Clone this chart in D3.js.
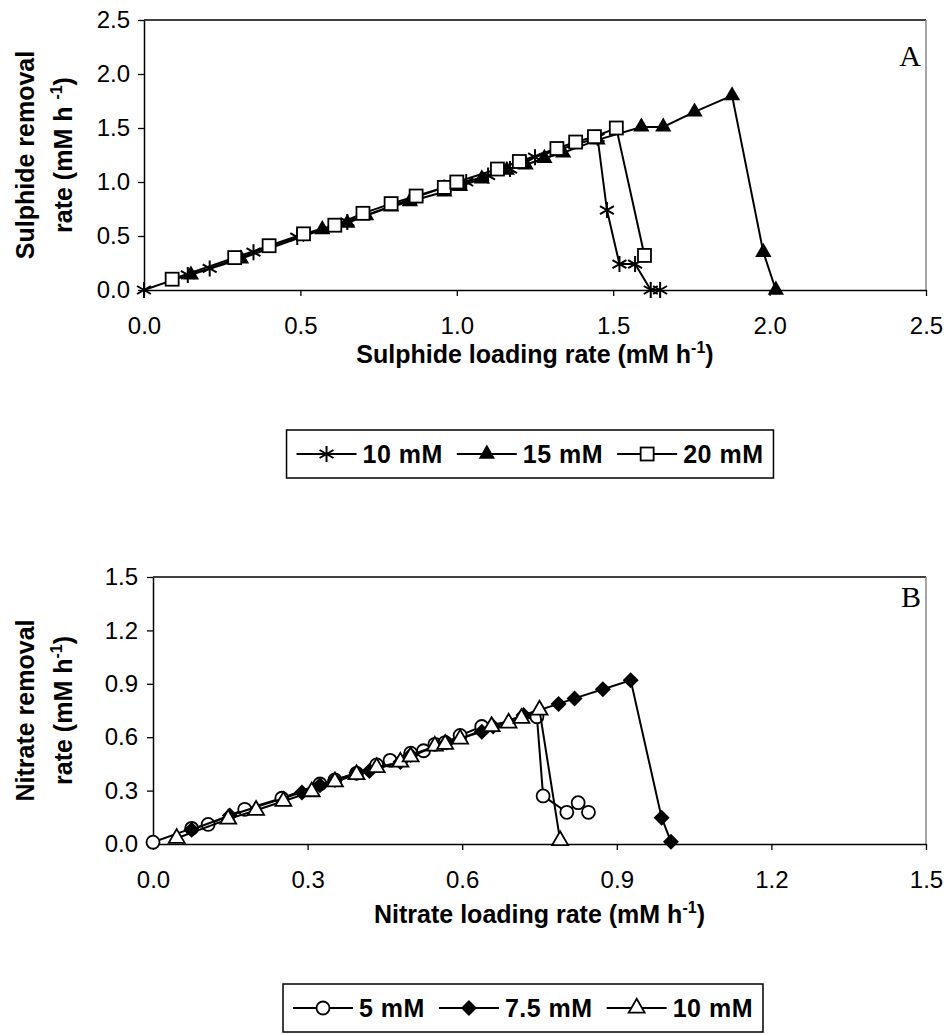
<!DOCTYPE html>
<html><head><meta charset="utf-8">
<script src="https://cdn.jsdelivr.net/npm/d3@7"></script>
<style>
body{margin:0;background:#fff}
svg{display:block}
</style>
</head><body>
<svg id="c" width="948" height="1034"></svg>
<script>
// ---------- Panel A data (sulphide) ----------
const aTicks = [0, 0.5, 1.0, 1.5, 2.0, 2.5];
const aSeriesNames = ["10 mM", "15 mM", "20 mM"];
const a10x = [0, 0.14, 0.21, 0.35, 0.49, 0.65, 0.87, 0.96, 1.03, 1.10, 1.17, 1.25, 1.45, 1.48, 1.52, 1.57, 1.62, 1.65];
const a10y = [0, 0.14, 0.20, 0.35, 0.49, 0.63, 0.86, 0.95, 1.00, 1.06, 1.12, 1.23, 1.41, 0.74, 0.24, 0.24, 0.00, 0.00];
const a15x = [0.15, 0.31, 0.57, 0.65, 0.71, 0.79, 0.85, 0.96, 1.01, 1.08, 1.16, 1.22, 1.28, 1.34, 1.45, 1.59, 1.66, 1.76, 1.88, 1.98, 2.02];
const a15y = [0.14, 0.29, 0.56, 0.62, 0.69, 0.77, 0.82, 0.91, 0.96, 1.03, 1.11, 1.16, 1.22, 1.27, 1.39, 1.51, 1.51, 1.65, 1.80, 0.35, 0.00];
const a20x = [0.09, 0.29, 0.40, 0.51, 0.61, 0.70, 0.79, 0.87, 0.96, 1.00, 1.13, 1.20, 1.32, 1.38, 1.44, 1.51, 1.60];
const a20y = [0.10, 0.30, 0.41, 0.52, 0.60, 0.71, 0.80, 0.87, 0.95, 1.00, 1.12, 1.19, 1.31, 1.37, 1.42, 1.50, 0.32];

// ---------- Panel B data (nitrate) ----------
const bTicks = [0, 0.3, 0.6, 0.9, 1.2, 1.5];
const bSeriesNames = ["5 mM", "7.5 mM", "10 mM"];
const b5x = [0, 0.075, 0.107, 0.178, 0.25, 0.324, 0.353, 0.395, 0.434, 0.46, 0.50, 0.525, 0.547, 0.567, 0.596, 0.638, 0.745, 0.757, 0.803, 0.825, 0.845];
const b5y = [0.01, 0.088, 0.11, 0.195, 0.257, 0.337, 0.36, 0.397, 0.444, 0.47, 0.51, 0.524, 0.56, 0.57, 0.61, 0.66, 0.715, 0.27, 0.178, 0.232, 0.178];
const b75x = [0.075, 0.149, 0.289, 0.324, 0.353, 0.395, 0.42, 0.48, 0.50, 0.57, 0.638, 0.66, 0.719, 0.787, 0.818, 0.873, 0.927, 0.987, 1.005];
const b75y = [0.08, 0.16, 0.29, 0.33, 0.36, 0.40, 0.41, 0.46, 0.50, 0.57, 0.63, 0.66, 0.725, 0.787, 0.818, 0.869, 0.92, 0.148, 0.013];
const b10x = [0.046, 0.146, 0.20, 0.253, 0.308, 0.353, 0.395, 0.434, 0.48, 0.50, 0.547, 0.567, 0.596, 0.657, 0.69, 0.715, 0.75, 0.79];
const b10y = [0.032, 0.14, 0.19, 0.24, 0.294, 0.35, 0.39, 0.43, 0.46, 0.49, 0.55, 0.56, 0.59, 0.66, 0.68, 0.706, 0.753, 0.02];

const SANS = "'Liberation Sans', Arial, sans-serif";
const SERIF = "'Liberation Serif', 'Times New Roman', serif";
const svg = d3.select("#c");
const zip = (xs, ys) => xs.map((x, i) => [x, ys[i]]);

function marker(g, type) {
  if (type === "asterisk") {
    const s = 8;
    g.append("path").attr("d", `M0,${-s}L0,${s}M${-s*0.87},${-s*0.5}L${s*0.87},${s*0.5}M${-s*0.87},${s*0.5}L${s*0.87},${-s*0.5}`)
      .attr("stroke", "#000").attr("stroke-width", 2).attr("fill", "none");
  } else if (type === "triangle") {
    g.append("path").attr("d", d3.symbol(d3.symbolTriangle, 115)()).attr("fill", "#000");
  } else if (type === "triangleOpen") {
    g.append("path").attr("d", d3.symbol(d3.symbolTriangle, 110)()).attr("fill", "#fff").attr("stroke", "#000").attr("stroke-width", 1.8);
  } else if (type === "square") {
    g.append("rect").attr("x", -6.5).attr("y", -6.5).attr("width", 13).attr("height", 13)
      .attr("fill", "#fff").attr("stroke", "#000").attr("stroke-width", 1.8);
  } else if (type === "circle") {
    g.append("circle").attr("r", 6.5).attr("fill", "#fff").attr("stroke", "#000").attr("stroke-width", 1.8);
  } else if (type === "diamond") {
    g.append("path").attr("d", "M0,-8L8,0L0,8L-8,0Z").attr("fill", "#000");
  }
}

function supTitle(sel, main, sup) {
  sel.append("tspan").text(main);
  sel.append("tspan").style("font-size", "16px").attr("dy", -10).text(sup);
  sel.append("tspan").attr("dy", 10).text(")");
}

function panel(cfg) {
  const x = d3.scaleLinear().domain([cfg.ticks[0], cfg.ticks[cfg.ticks.length-1]]).range([cfg.left, cfg.right]);
  const y = d3.scaleLinear().domain([cfg.ticks[0], cfg.ticks[cfg.ticks.length-1]]).range([cfg.bottom, cfg.top]);
  const g = svg.append("g");
  g.append("line").attr("x1", cfg.left).attr("x2", cfg.right).attr("y1", cfg.top).attr("y2", cfg.top).attr("stroke", "#000").attr("stroke-width", 1.5);
  g.append("line").attr("x1", cfg.right).attr("x2", cfg.right).attr("y1", cfg.top).attr("y2", cfg.bottom).attr("stroke", "#888").attr("stroke-width", 1.5);

  const xa = g.append("g").attr("transform", `translate(0,${cfg.bottom})`)
    .call(d3.axisBottom(x).tickValues(cfg.ticks).tickFormat(d3.format(".1f")).tickSize(6).tickSizeOuter(0).tickPadding(21));
  const ya = g.append("g").attr("transform", `translate(${cfg.left},0)`)
    .call(d3.axisLeft(y).tickValues(cfg.ticks).tickFormat(d3.format(".1f")).tickSize(6).tickSizeOuter(0).tickPadding(cfg.ypad));
  [xa, ya].forEach(a => {
    a.select(".domain").attr("stroke", "#000").attr("stroke-width", 1.5);
    a.selectAll(".tick line").attr("stroke", "#000").attr("stroke-width", 1.3);
    a.selectAll(".tick text").style("font-size", "24px").style("font-family", SANS).attr("fill", "#000");
  });

  const line = d3.line().x(d => x(d[0])).y(d => y(d[1]));
  cfg.series.forEach(s => {
    const pts = zip(s.x, s.y);
    g.append("path").attr("d", line(pts)).attr("fill", "none").attr("stroke", "#000").attr("stroke-width", 2);
    pts.forEach(p => {
      marker(g.append("g").attr("transform", `translate(${x(p[0])},${y(p[1])})`), s.marker);
    });
  });

  g.append("text").attr("x", cfg.right - 5).attr("y", cfg.top + cfg.letterDy).attr("text-anchor", "end")
    .style("font-family", SERIF).style("font-size", "30px").text(cfg.letter);

  const xt = g.append("text").attr("x", (cfg.left + cfg.right) / 2).attr("y", cfg.xTitleY)
    .attr("text-anchor", "middle").style("font-family", SANS).style("font-weight", "bold").style("font-size", "25px");
  supTitle(xt, cfg.xTitle, "-1");

  const cy = (cfg.top + cfg.bottom) / 2;
  g.append("text").attr("transform", `translate(${cfg.yTitleX1},${cy}) rotate(-90)`)
    .attr("text-anchor", "middle").style("font-family", SANS).style("font-weight", "bold").style("font-size", "25px").text(cfg.yTitle1);
  const yt2 = g.append("text").attr("transform", `translate(${cfg.yTitleX2},${cy}) rotate(-90)`)
    .attr("text-anchor", "middle").style("font-family", SANS).style("font-weight", "bold").style("font-size", "25px");
  supTitle(yt2, cfg.yTitle2, "-1");

  // legend
  const lg = svg.append("g");
  const segW = 60, gapT = 6, gapI = 14, pad = 10;
  let cx = 0;
  cfg.series.forEach((s, i) => {
    const it = lg.append("g").attr("transform", `translate(${cx},0)`);
    it.append("line").attr("x1", 0).attr("x2", segW).attr("y1", 0).attr("y2", 0).attr("stroke", "#000").attr("stroke-width", 2);
    marker(it.append("g").attr("transform", `translate(${segW/2},0)`), s.marker);
    const t = it.append("text").attr("x", segW + gapT).attr("y", 9)
      .style("font-family", SANS).style("font-weight", "bold").style("font-size", "25px").style("letter-spacing", "0.5px").text(cfg.names[i]);
    cx += segW + gapT + t.node().getComputedTextLength() + gapI;
  });
  const boxW = cx - gapI + pad * 2;
  lg.insert("rect", ":first-child").attr("x", -pad).attr("y", -(cfg.legendH / 2)).attr("width", boxW).attr("height", cfg.legendH)
    .attr("fill", "#fff").attr("stroke", "#000").attr("stroke-width", 1.5);
  lg.attr("transform", `translate(${cfg.legendCx - boxW / 2 + pad},${cfg.legendCy})`);
}

panel({
  ticks: aTicks, left: 144, right: 926, top: 20, bottom: 290, ypad: 8,
  letter: "A", letterDy: 46,
  xTitle: "Sulphide loading rate (mM h", xTitleY: 363,
  yTitle1: "Sulphide removal", yTitle2: "rate (mM h ", yTitleX1: 34, yTitleX2: 72,
  names: aSeriesNames,
  series: [
    {x: a10x, y: a10y, marker: "asterisk"},
    {x: a15x, y: a15y, marker: "triangle"},
    {x: a20x, y: a20y, marker: "square"}
  ],
  legendCx: 530, legendCy: 454, legendH: 48
});

panel({
  ticks: bTicks, left: 153, right: 926, top: 577, bottom: 844, ypad: 9,
  letter: "B", letterDy: 30,
  xTitle: "Nitrate loading rate (mM h", xTitleY: 923,
  yTitle1: "Nitrate removal", yTitle2: "rate (mM h", yTitleX1: 34, yTitleX2: 72,
  names: bSeriesNames,
  series: [
    {x: b5x, y: b5y, marker: "circle"},
    {x: b75x, y: b75y, marker: "diamond"},
    {x: b10x, y: b10y, marker: "triangleOpen"}
  ],
  legendCx: 523, legendCy: 1008, legendH: 48
});
</script>
</body></html>
